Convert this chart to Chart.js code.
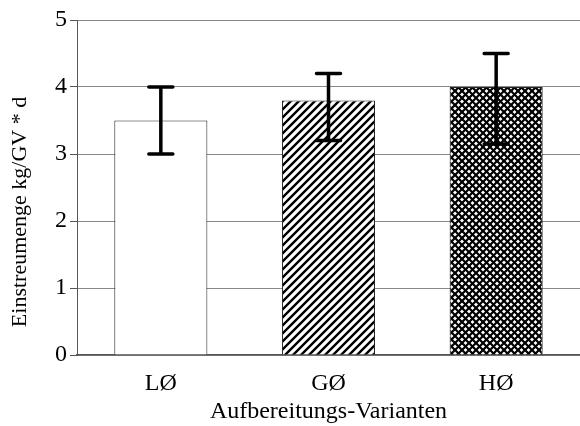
<!DOCTYPE html>
<html>
<head>
<meta charset="utf-8">
<script src="https://cdn.jsdelivr.net/npm/chart.js@4"></script>
<style>
  html, body { margin: 0; padding: 0; background: #fff; }
  #wrap { width: 580px; height: 426px; }
</style>
</head>
<body>
<div id="wrap"><canvas id="chart" width="580" height="426"></canvas></div>
<script>
const categories = ['LØ', 'GØ', 'HØ'];
const values = [3.5, 3.8, 4.0];
const errLow = [3.0, 3.2, 3.15];
const errHigh = [4.0, 4.2, 4.5];
const yTicks = [0, 1, 2, 3, 4, 5];
const yTitle = 'Einstreumenge kg/GV * d';

const makePattern = (size, draw) => {
    const c = document.createElement('canvas');
    c.width = size;
    c.height = size;
    const g = c.getContext('2d');
    g.fillStyle = '#fff';
    g.fillRect(0, 0, size, size);
    g.strokeStyle = '#000';
    draw(g, size);
    return g.createPattern(c, 'repeat');
};

const diag = (g, s) => {
    g.beginPath();
    g.moveTo(-1, s + 1); g.lineTo(s + 1, -1);
    g.moveTo(-2, 2); g.lineTo(2, -2);
    g.moveTo(s - 2, s + 2); g.lineTo(s + 2, s - 2);
    g.stroke();
};

const ctx = document.getElementById('chart').getContext('2d');
const hatch = makePattern(8, (g, s) => { g.lineWidth = 2.4; diag(g, s); });
const cross = makePattern(7, (g, s) => {
    g.lineWidth = 2.2;
    diag(g, s);
    g.beginPath();
    g.moveTo(-1, -1); g.lineTo(s + 1, s + 1);
    g.moveTo(s - 2, -2); g.lineTo(s + 2, 2);
    g.moveTo(-2, s - 2); g.lineTo(2, s + 2);
    g.stroke();
});

const errorBars = {
    id: 'errorBars',
    afterDatasetsDraw(chart) {
        const { ctx, scales } = chart;
        ctx.save();
        ctx.strokeStyle = '#000';
        ctx.lineWidth = 3.5;
        ctx.lineCap = 'round';
        errLow.forEach((lo, i) => {
            const x = scales.x.getPixelForValue(i);
            const y1 = scales.y.getPixelForValue(lo);
            const y2 = scales.y.getPixelForValue(errHigh[i]);
            ctx.beginPath();
            ctx.moveTo(x, y1); ctx.lineTo(x, y2);
            ctx.moveTo(x - 12, y1); ctx.lineTo(x + 12, y1);
            ctx.moveTo(x - 12, y2); ctx.lineTo(x + 12, y2);
            ctx.stroke();
        });
        // y axis title, sits a bit below the middle of the plot like the original
        ctx.fillStyle = '#000';
        ctx.font = '22px "Liberation Serif"';
        ctx.textAlign = 'center';
        ctx.textBaseline = 'middle';
        ctx.translate(20, 212);
        ctx.rotate(-Math.PI / 2);
        ctx.fillText(yTitle, 0, 0);
        ctx.restore();
    },
};

const serif = 'Liberation Serif';

new Chart(ctx, {
    type: 'bar',
    data: {
        labels: categories,
        datasets: [{
            data: values,
            backgroundColor: ['#fff', hatch, cross],
            borderColor: '#222',
            borderWidth: 1,
            barPercentage: 1,
            categoryPercentage: 0.555,
        }],
    },
    options: {
        responsive: false,
        animation: false,
        layout: { padding: { top: 20, right: 0, left: 0, bottom: 0 } },
        plugins: {
            legend: { display: false },
            tooltip: { enabled: false },
        },
        scales: {
            x: {
                grid: { display: false, drawTicks: false },
                border: { color: '#555', width: 1.5 },
                ticks: { color: '#000', font: { family: serif, size: 24 }, padding: 14 },
                title: {
                    display: true,
                    text: 'Aufbereitungs-Varianten',
                    color: '#000',
                    font: { family: serif, size: 24 },
                    padding: { top: 0, bottom: 0 },
                },
                afterFit(scale) { scale.height = 71; },
            },
            y: {
                min: 0,
                max: 5,
                afterBuildTicks(scale) { scale.ticks = yTicks.map((v) => ({ value: v })); },
                grid: { color: '#888', lineWidth: 1, tickLength: 7, tickColor: '#555' },
                border: { color: '#555', width: 1 },
                ticks: { color: '#000', font: { family: serif, size: 24 }, padding: 3 },
                afterFit(scale) { scale.width = 77; },
            },
        },
    },
    plugins: [errorBars],
});
</script>
</body>
</html>
